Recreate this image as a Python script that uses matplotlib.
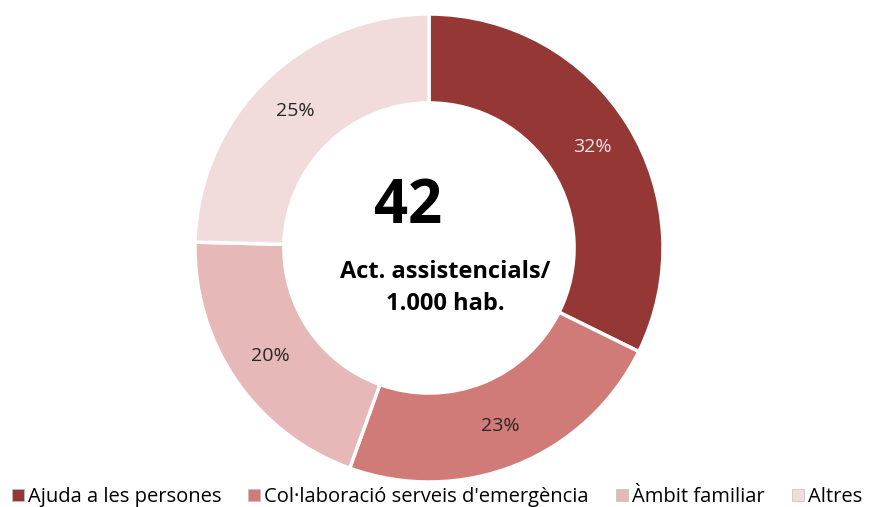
"""
Donut chart: activitats assistencials per tipus.
"""

import matplotlib.pyplot as plt
from matplotlib.patches import Patch

# data
CATEGORIES = ['Ajuda a les persones', "Col·laboració serveis d'emergència",
              'Àmbit familiar', 'Altres']
VALUES = [32.3, 23.2, 19.9, 24.6]
COLORS = ['#953735', '#D07B78', '#E6B8B7', '#F2DCDB']
LABEL_COLORS = ['#F2E4E4', '#262626', '#262626', '#262626']
CENTER_VALUE = '42'
CENTER_TEXT = 'Act. assistencials/\n1.000 hab.'

plt.rcParams['font.family'] = ['Open Sans', 'DejaVu Sans']

fig = plt.figure(figsize=(8.74, 5.07), dpi=100)
ax = fig.add_axes([(429 - 234) / 874, (259 - 234) / 507, 468 / 874, 468 / 507])

wedges, texts, autotexts = ax.pie(
    VALUES, colors=COLORS, startangle=90, counterclock=False, radius=1,
    autopct='%.0f%%', pctdistance=0.82,
    wedgeprops=dict(width=0.38, edgecolor='white', linewidth=2.5),
    textprops=dict(fontsize=14))
for t, c in zip(autotexts, LABEL_COLORS):
    t.set_color(c)

ax.set_xlim(-1, 1)
ax.set_ylim(-1, 1)

ax.text(-0.09, 0.175, CENTER_VALUE, ha='center', va='center',
        fontsize=43, fontweight='bold', color='black')
ax.text(0.07, -0.17, CENTER_TEXT, ha='center', va='center',
        fontsize=17, fontweight='bold', color='black', linespacing=1.45)

handles = [Patch(facecolor=c, edgecolor='#BFBFBF', linewidth=0.5) for c in COLORS]
fig.legend(handles, CATEGORIES, loc='lower center', ncol=4, frameon=False,
           bbox_to_anchor=(0.5, -0.036), fontsize=14.5, handlelength=0.6,
           handleheight=0.6, handletextpad=0.2, columnspacing=1.35)

fig.savefig('out.png', dpi=100)
